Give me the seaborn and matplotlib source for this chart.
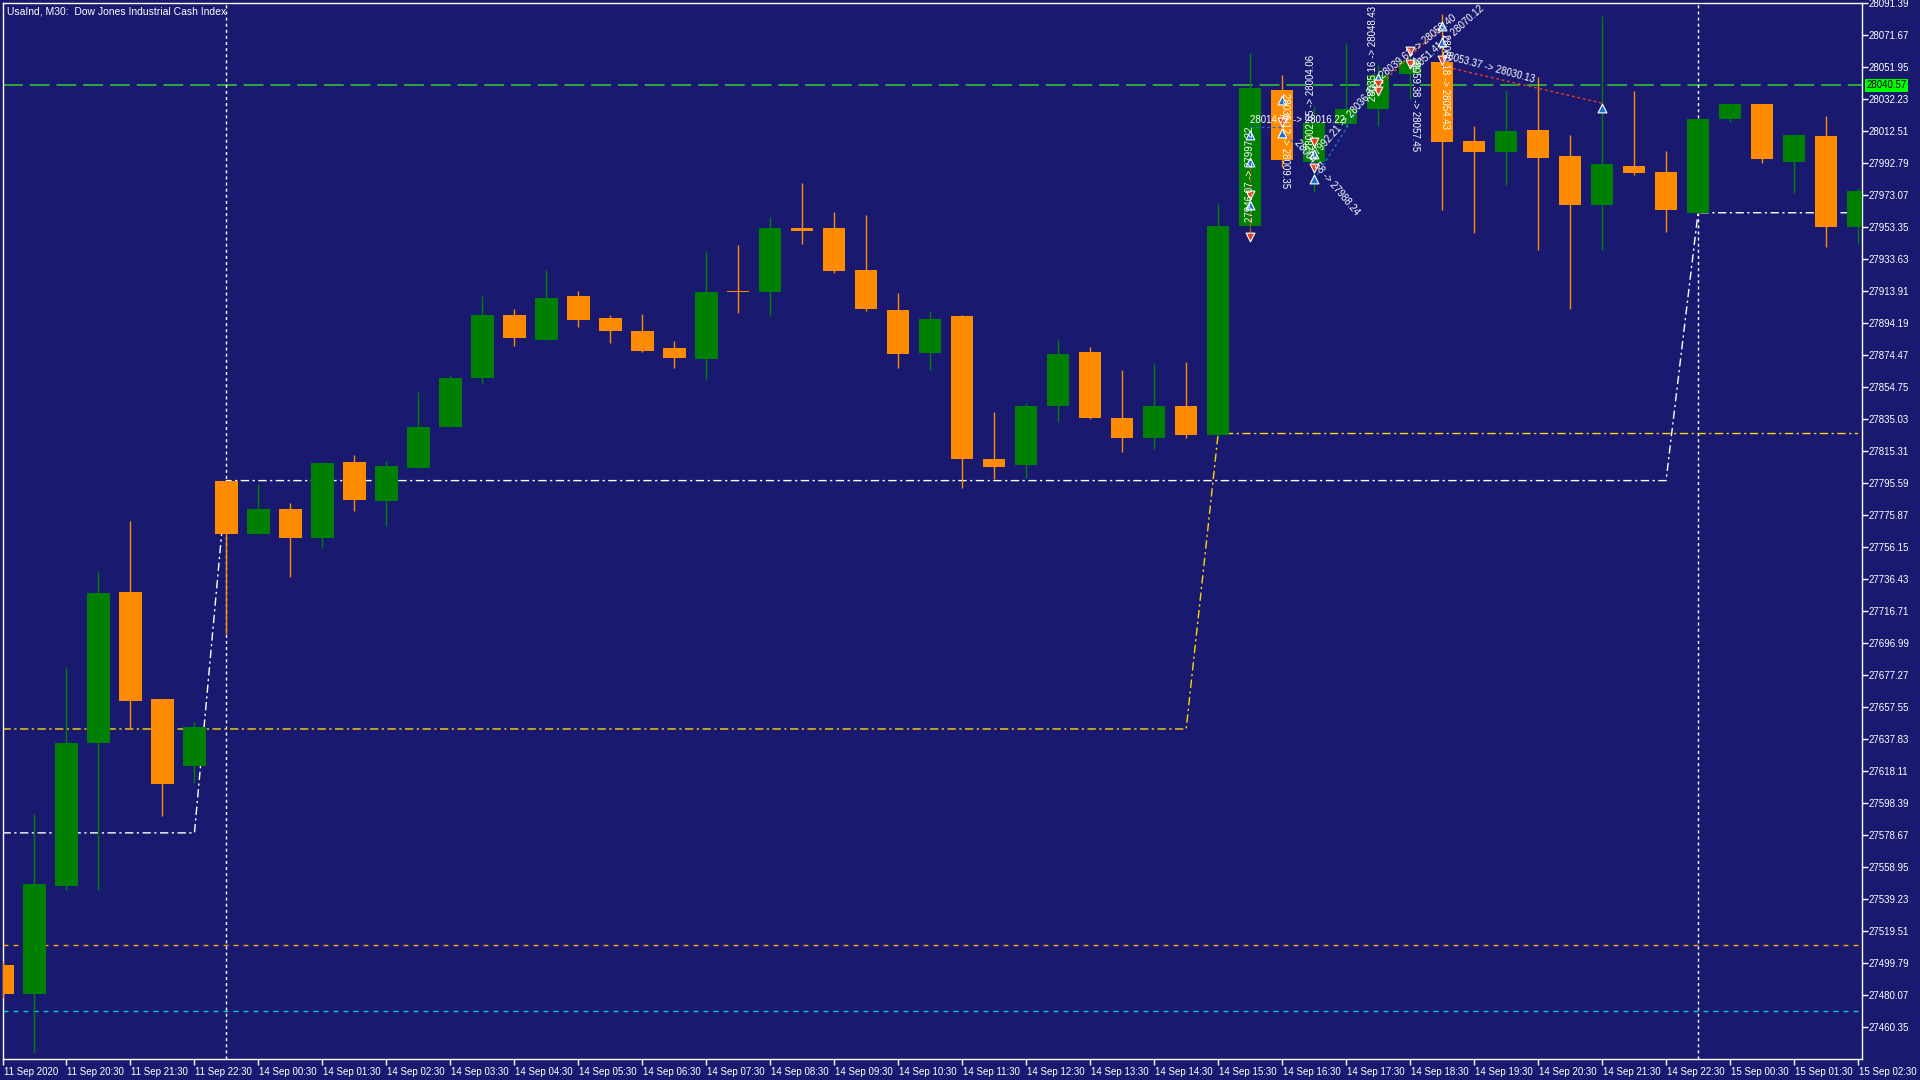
import numpy as np
import pandas as pd
import matplotlib
matplotlib.use('Agg')
import matplotlib.pyplot as plt
import matplotlib.transforms as mtransforms
import seaborn as sns


# ---- data (UsaInd M30) ----
opens = [27498.9, 27480.8, 27547.2, 27635.5, 27728.3, 27662.7, 27621.1, 27797.0, 27763.8, 27779.6,
         27761.5, 27808.3, 27784.2, 27804.6, 27830.2, 27860.4, 27898.9, 27883.8, 27911.0, 27897.4,
         27889.1, 27878.5, 27871.7, 27914.0, 27913.3, 27952.5, 27952.5, 27926.8, 27901.9, 27875.5,
         27898.2, 27810.6, 27806.8, 27843.1, 27876.3, 27835.5, 27823.4, 27843.1, 27825.0, 27954.0,
         28037.4, 27993.2, 28016.9, 28025.7, 28047.6, 28054.9, 28006.1, 27999.4, 28013.0, 27996.7,
         27966.9, 27991.1, 27987.2, 27961.6, 28019.7, 28028.7, 27993.3, 28009.1, 27953.3]
closes = [27480.8, 27548.7, 27635.5, 27727.6, 27661.2, 27609.8, 27645.3, 27763.8, 27779.6, 27761.5,
          27807.6, 27784.9, 27806.1, 27830.2, 27860.4, 27898.9, 27884.6, 27909.5, 27895.9, 27889.1,
          27877.0, 27872.5, 27913.3, 27912.9, 27952.5, 27951.0, 27926.1, 27902.7, 27874.8, 27896.6,
          27810.6, 27805.3, 27843.1, 27874.8, 27835.5, 27823.4, 27843.1, 27825.0, 27954.0, 28038.6,
          27994.4, 28017.4, 28026.1, 28046.8, 28055.5, 28005.7, 27999.4, 28012.3, 27995.7, 27966.9,
          27992.3, 27986.3, 27963.8, 28019.7, 28028.7, 27994.8, 28009.9, 27953.3, 27975.5]
highs = [27501.1, 27591.7, 27682.3, 27741.2, 27772.1, 27662.7, 27648.3, 27797.0, 27794.7, 27783.4,
         27807.6, 27812.9, 27809.1, 27851.4, 27861.9, 27911.0, 27902.7, 27926.8, 27914.0, 27898.9,
         27899.7, 27883.1, 27938.2, 27942.0, 27959.3, 27980.4, 27962.3, 27960.8, 27912.5, 27901.2,
         27898.9, 27839.3, 27844.6, 27883.8, 27879.3, 27864.9, 27868.7, 27870.2, 27967.6, 28060.7,
         28046.8, 28027.2, 28066.4, 28053.0, 28061.4, 28084.3, 28015.5, 28037.4, 28045.5, 28009.8,
         28083.1, 28037.0, 28000.0, 28019.7, 28028.7, 28028.7, 28009.9, 28021.9, 27977.0]
lows = [27478.5, 27444.5, 27544.9, 27544.9, 27643.8, 27590.2, 27610.6, 27702.7, 27763.8, 27737.4,
        27755.5, 27778.2, 27769.1, 27804.6, 27830.2, 27856.6, 27880.0, 27883.8, 27891.4, 27881.5,
        27876.3, 27866.4, 27859.6, 27900.4, 27898.2, 27942.7, 27924.6, 27901.2, 27866.4, 27864.9,
        27792.5, 27797.7, 27798.5, 27833.2, 27834.8, 27814.4, 27816.6, 27823.4, 27824.2, 27948.7,
        27990.0, 27975.0, 28015.0, 28015.7, 28032.2, 27963.7, 27949.4, 27978.8, 27939.3, 27902.7,
        27938.9, 27985.0, 27950.2, 27961.6, 28018.2, 27992.5, 27974.4, 27941.2, 27943.0]

time_labels = ['11 Sep 2020', '11 Sep 20:30', '11 Sep 21:30', '11 Sep 22:30',
               '14 Sep 00:30', '14 Sep 01:30', '14 Sep 02:30', '14 Sep 03:30', '14 Sep 04:30',
               '14 Sep 05:30', '14 Sep 06:30', '14 Sep 07:30', '14 Sep 08:30', '14 Sep 09:30',
               '14 Sep 10:30', '14 Sep 11:30', '14 Sep 12:30', '14 Sep 13:30', '14 Sep 14:30',
               '14 Sep 15:30', '14 Sep 16:30', '14 Sep 17:30', '14 Sep 18:30', '14 Sep 19:30',
               '14 Sep 20:30', '14 Sep 21:30', '14 Sep 22:30', '15 Sep 00:30', '15 Sep 01:30',
               '15 Sep 02:30']

# step indicators (level, first bar of the level)
white_levels = [27580.0, 27797.0, 27962.0]
white_starts = [0, 7, 53]
gold_levels = [27644.0, 27826.0]
gold_starts = [0, 38]

bid_price = 28040.57
orange_level = 27510.9
cyan_level = 27470.2
day_separators = [7, 53]

# trade markers: (bar, price)
buy_marks = [(39, 28010.1), (39, 27993.0), (39, 27966.5), (40, 28031.3), (40, 28011.1),
             (41, 27998.2), (41, 27982.5), (43, 28045.1), (45, 28077.0), (45, 28067.0),
             (50, 28026.3)]
sell_marks = [(39, 27973.1), (39, 27947.1), (40, 28018.0), (41, 28005.5), (41, 27989.4),
              (43, 28041.3), (43, 28037.2), (44, 28061.4), (44, 28053.5), (45, 28056.0)]
blue_links = [((39, 28014.7), (40, 28014.7)), ((40, 28011.1), (41, 27995.0)),
              ((41, 27982.5), (43, 28045.1))]
red_links = [((39, 27993.0), (39, 27947.1)), ((43, 28039.9), (45, 28076.8)),
             ((45, 28052.4), (50, 28029.5))]
# trade labels: (text, bar, price, rotation)
trade_texts = [('27946.07 -> 27997.22', 39.0, 27986.0, 90),
               ('28035.12 -> 28009.35', 40.1, 28006.5, -90),
               ('28002.65 -> 28004.06', 40.9, 28030.0, 90),
               ('27992.21 -> 28036.33', 41.95, 28018.0, 48),
               ('28004.58 -> 27988.24', 41.4, 27984.0, -50),
               ('28035.16 -> 28048.43', 42.85, 28060.0, 90),
               ('28059.38 -> 28057.45', 44.15, 28029.0, -90),
               ('28039.62 -> 28058.40', 44.25, 28064.0, 39),
               ('28051.41 -> 28070.12', 45.15, 28069.0, 42),
               ('28080.18 -> 28054.43', 45.1, 28043.0, -90),
               ('28053.37 -> 28030.13', 46.45, 28051.3, -15)]
hline_text = ('28014.72 -> 28016.22', 39.0, 28019.0)

BG = '#191970'
BULL = '#008000'
BEAR = '#FF8C00'

sns.set_style('dark', {'axes.facecolor': BG, 'figure.facecolor': BG, 'axes.edgecolor': 'white',
                       'grid.color': BG})
plt.rcParams['font.family'] = ['Liberation Sans', 'DejaVu Sans']

df = pd.DataFrame({'open': opens, 'high': highs, 'low': lows, 'close': closes})
df['bar'] = np.arange(len(df))
df['bull'] = df['close'] >= df['open']

fig = plt.figure(figsize=(19.2, 10.8), dpi=100)
ax = fig.add_axes([2.5 / 1920, 1 - 1059 / 1080, (1862 - 2.5) / 1920, (1059 - 2.7) / 1080])
ax.set_facecolor(BG)


def step_points(levels, starts, last_bar):
    xs, ys = [], []
    for k, lvl in enumerate(levels):
        end = starts[k + 1] - 1 if k + 1 < len(starts) else last_bar
        xs += [starts[k], end]
        ys += [lvl, lvl]
    return pd.DataFrame({'bar': xs, 'level': ys})


last_bar = len(df) - 1
dashdot = (0, (6, 2.5, 1.6, 2.5))
sns.lineplot(data=step_points(gold_levels, gold_starts, last_bar), x='bar', y='level',
             sort=False, estimator=None, color='#FFD700', lw=1, linestyle=dashdot, ax=ax, zorder=2)
sns.lineplot(data=step_points(white_levels, white_starts, last_bar), x='bar', y='level',
             sort=False, estimator=None, color='white', lw=1, linestyle=dashdot, ax=ax, zorder=2)

ax.axhline(bid_price, color='#32CD32', lw=1.1, ls=(0, (13, 4.5)), zorder=1)
ax.axhline(orange_level, color='#FFA500', lw=1, ls=(0, (3.6, 3.6)), zorder=1)
ax.axhline(cyan_level, color='#00CED1', lw=1, ls=(0, (3.6, 3.6)), zorder=1)
for b in day_separators:
    ax.axvline(b, color='white', lw=1, ls=(0, (2.2, 2.2)), zorder=1)

# candles
colors = np.where(df['bull'], BULL, BEAR)
ax.vlines(df['bar'], df['low'], df['high'], colors=colors, lw=1, zorder=3)
body_low = df[['open', 'close']].min(axis=1)
body_h = (df['close'] - df['open']).abs().clip(lower=0.8)
ax.bar(df['bar'], body_h, bottom=body_low, width=0.7, color=colors, linewidth=0, zorder=4)

# trade overlay
for (x0, y0), (x1, y1) in blue_links:
    ax.plot([x0, x1], [y0, y1], color='#1E6FD0', lw=1, ls=(0, (2, 2)), zorder=5)
for (x0, y0), (x1, y1) in red_links:
    ax.plot([x0, x1], [y0, y1], color='#E8401C', lw=1, ls=(0, (2, 2)), zorder=5)
bx, by = zip(*buy_marks)
sx, sy = zip(*sell_marks)
ax.scatter(bx, by, marker='^', s=40, color='#1E6FD0', edgecolors='white', linewidths=0.8, zorder=6)
ax.scatter(sx, sy, marker='v', s=40, color='#E8401C', edgecolors='white', linewidths=0.8, zorder=6)
for txt, tx, ty, rot in trade_texts:
    ax.text(tx, ty, txt, color='white', fontsize=7, rotation=rot,
            rotation_mode='anchor', ha='center', va='center', zorder=7)
ax.text(hline_text[1], hline_text[2], hline_text[0], color='white', fontsize=7,
        ha='left', va='center', zorder=7)

# axes
ax.set_xlim(0.016, 58.125)
ax.set_ylim(27440.7, 28091.39)
ax.set_xlabel('')
ax.set_ylabel('')
ax.grid(False)
for sp in ax.spines.values():
    sp.set_color('white')
    sp.set_linewidth(1)

yticks = np.round(28091.39 - 19.72 * np.arange(33), 2)
ax.yaxis.tick_right()
ax.set_yticks(yticks)
ax.set_yticklabels([f'{v:.2f}' for v in yticks])
ax.set_xticks(np.arange(0, len(df), 2))
ax.set_xticklabels(time_labels)
ax.tick_params(axis='y', colors='white', labelcolor='white', labelsize=7, length=4, width=1,
               pad=1, right=True, left=False)
ax.tick_params(axis='x', colors='white', labelcolor='white', labelsize=7, length=4, width=1,
               pad=2, bottom=True)
for lab in ax.get_xticklabels():
    lab.set_ha('left')
    lab.set_transform(lab.get_transform() + mtransforms.ScaledTranslation(1 / 100, 0, fig.dpi_scale_trans))

ax.text(0.0025, 0.9965, 'UsaInd, M30:  Dow Jones Industrial Cash Index', transform=ax.transAxes,
        color='white', fontsize=7.5, ha='left', va='top')

trans = mtransforms.blended_transform_factory(ax.transAxes, ax.transData)
ax.text(1.0025, bid_price, f'{bid_price:.2f}', transform=trans, color='black', fontsize=7,
        ha='left', va='center', zorder=8, clip_on=False,
        bbox=dict(boxstyle='square,pad=0.15', facecolor='#00FF00', edgecolor='none'))

fig.savefig('out.png', dpi=100, facecolor=BG)
